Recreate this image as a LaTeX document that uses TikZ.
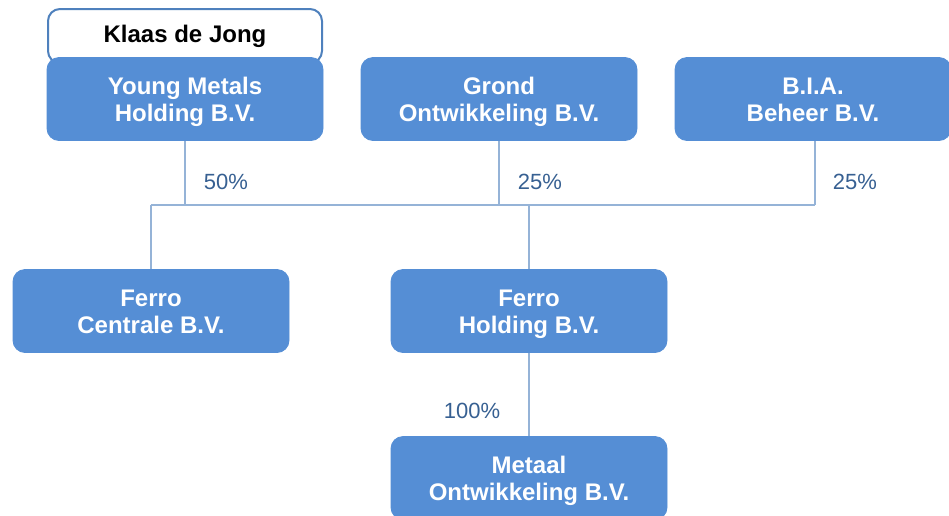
\documentclass[tikz,border=0pt]{standalone}
\usepackage{fontspec}
\setmainfont{Liberation Sans}
\usepackage{xcolor}
\usepackage{tikz}
\usetikzlibrary{positioning}
\usetikzlibrary{calc}

\definecolor{boxblue}{HTML}{558ED5}
\definecolor{edgeblue}{HTML}{4F81BD}
\definecolor{lineblue}{HTML}{95B3D7}
\definecolor{pctblue}{HTML}{376092}

\newcommand{\twoline}[2]{\begin{tabular}[t]{@{}c@{}}#1\\#2\end{tabular}}

\begin{document}
\begin{tikzpicture}[
x=0.5pt, y=-0.5pt,
company/.style={
  rectangle,
  rounded corners=6pt,
  draw=boxblue,
  fill=boxblue,
  text=white,
  minimum width=138pt,
  minimum height=41.5pt,
  inner sep=2pt,
  text height=11pt,
  text depth=16pt,
  font=\fontsize{12}{13.5}\selectfont\bfseries
},
owner/.style={
  rectangle,
  rounded corners=6pt,
  draw=edgeblue,
  line width=1pt,
  fill=white,
  minimum width=137pt,
  minimum height=27pt,
  inner sep=2pt,
  font=\fontsize{12}{13.5}\selectfont\bfseries
},
  pct/.style={
    text=pctblue,
    inner sep=1pt,
    font=\fontsize{11}{13.5}\selectfont
  },
  link/.style={draw=lineblue, line width=0.8pt}
]
\useasboundingbox (0,0) rectangle (949,515);

% ---- TOP ROW: shareholders ----
\node[owner] (klaas) at (185, 36) {Klaas de Jong};

\node[company] (ym)    at (185,  99) {\twoline{Young Metals}{Holding B.V.}};
\node[company] (grond) at (499,  99) {\twoline{Grond}{Ontwikkeling B.V.}};
\node[company] (bia)   at (813,  99) {\twoline{B.I.A.}{Beheer B.V.}};

% ---- MIDDLE ROW ----
\node[company] (fc) at (151, 311) {\twoline{Ferro}{Centrale B.V.}};
\node[company] (fh) at (529, 311) {\twoline{Ferro}{Holding B.V.}};

% ---- BOTTOM ----
\node[company] (mo) at (529, 478) {\twoline{Metaal}{Ontwikkeling B.V.}};

% ---- connectors ----
\coordinate (barL) at (151, 205);
\coordinate (barR) at (815, 205);

\draw[link] (barL) -- (barR);
\draw[link] (ym.south) -- (ym.south |- barL);
\draw[link] (grond.south) -- (grond.south |- barL);
\draw[link] (barR |- bia.south) -- (barR);
\draw[link] (barL) -- (fc.north);
\draw[link] (fh.north) -- (fh.north |- barL);
\draw[link] (fh.south) -- (mo.north);

\node[pct] (p1) at (226, 182) {50\%};
\node[pct] (p2) at (540, 182) {25\%};
\node[pct] (p3) at (855, 182) {25\%};
\node[pct] (p4) at (472, 411) {100\%};

\end{tikzpicture}
\end{document}
